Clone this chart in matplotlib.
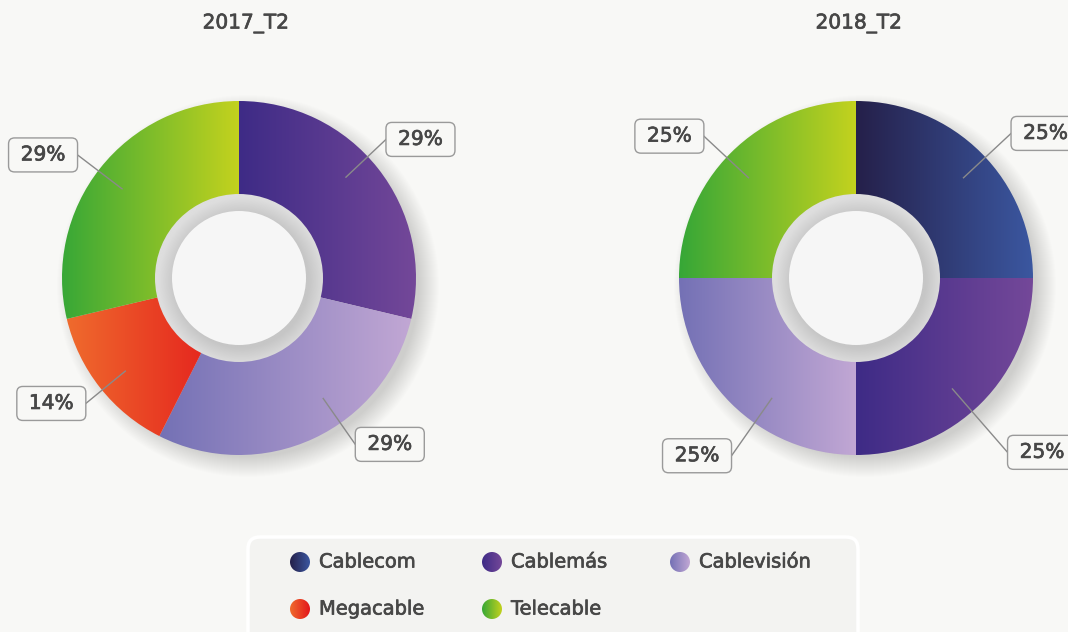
import numpy as np
import matplotlib
matplotlib.use("Agg")
import matplotlib.pyplot as plt
import matplotlib.patheffects as pe
from matplotlib.patches import Wedge, Circle, FancyBboxPatch
from matplotlib.colors import LinearSegmentedColormap

plt.rcParams['font.family'] = ['DejaVu Sans']

# data
companies = ['Cablecom', 'Cablemás', 'Cablevisión', 'Megacable', 'Telecable']
share_2017 = [0, 29, 29, 14, 29]
share_2018 = [25, 25, 25, 0, 25]
periods = ['2017_T2', '2018_T2']

grad_colors = {
    'Cablecom': ('#25204a', '#3b57a0'),
    'Cablemás': ('#3e2b86', '#744899'),
    'Cablevisión': ('#7471b5', '#c1a7d4'),
    'Megacable': ('#ef6b2d', '#e3151b'),
    'Telecable': ('#36a737', '#c3d21e'),
}

BG = '#f8f8f6'
TXT = '#474747'
W, H = 1068, 632
bold_fx = [pe.withStroke(linewidth=0.5, foreground=TXT)]

fig = plt.figure(figsize=(W / 100, H / 100), dpi=100, facecolor=BG)
ax = fig.add_axes([0, 0, 1, 1])
ax.set_facecolor(BG)
ax.axis('off')


def grad_fill(patch, c0, c1, zorder):
    patch.set_facecolor('none')
    patch.set_edgecolor('none')
    ax.add_patch(patch)
    verts = patch.get_patch_transform().transform(patch.get_path().vertices)
    x0, y0 = verts.min(axis=0)
    x1, y1 = verts.max(axis=0)
    cmap = LinearSegmentedColormap.from_list('g', [c0, c1])
    g = np.linspace(0, 1, 256).reshape(1, -1)
    im = ax.imshow(g, cmap=cmap, extent=[x0, x1, y0, y1], aspect='auto',
                   interpolation='bilinear', zorder=zorder)
    im.set_clip_path(patch)


def donut(cx, cy, values, nudges, title, title_x):
    R, r_ring, r_hole = 177, 84, 67
    # soft shadow, falling to the lower right
    for k in range(20, -1, -1):
        ax.add_patch(Circle((cx + 9, cy - 8), R - 6 + k, color='black',
                            alpha=0.0075, lw=0, zorder=1))
    total = float(sum(values))
    start = 90.0
    for name, v in zip(companies, values):
        if v <= 0:
            continue
        sweep = v / total * 360
        t1, t2 = start - sweep, start
        w = Wedge((cx, cy), R, t1, t2, width=R - r_ring + 4)
        c0, c1 = grad_colors[name]
        grad_fill(w, c0, c1, zorder=2)
        # label with leader line
        dth, r_out = nudges[name]
        mid = np.deg2rad((t1 + t2) / 2 + dth)
        xi, yi = cx + 147 * np.cos(mid), cy + 147 * np.sin(mid)
        xo, yo = cx + r_out * np.cos(mid), cy + r_out * np.sin(mid)
        ax.plot([xi, xo], [yi, yo], color='#8a8a8a', lw=1.0, zorder=4)
        bw, bh = 69, 34
        bx = xo if xo > cx else xo - bw
        box = FancyBboxPatch((bx, yo - bh / 2), bw, bh,
                             boxstyle='round,pad=0,rounding_size=6',
                             fc=BG, ec='#9a9a9a', lw=1.0, zorder=5)
        ax.add_patch(box)
        ax.text(bx + bw / 2, yo, f'{v:.0f}%', ha='center', va='center',
                fontsize=14.5, color=TXT, zorder=6, path_effects=bold_fx)
        start = t1
    # inner gray ring with radial shading
    ring = Circle((cx, cy), r_ring, fc='none', ec='none')
    ax.add_patch(ring)
    n = 200
    xs = np.linspace(-r_ring, r_ring, n)
    X, Y = np.meshgrid(xs, xs)
    rr = np.hypot(X - 3, Y + 3)
    shade = np.clip((rr - r_hole) / (r_ring - r_hole), 0, 1)
    cmap = LinearSegmentedColormap.from_list('ring', ['#c6c6c6', '#dedede'])
    im = ax.imshow(shade, cmap=cmap, extent=[cx - r_ring, cx + r_ring, cy - r_ring, cy + r_ring],
                   origin='lower', interpolation='bilinear', zorder=3)
    im.set_clip_path(ring)
    ax.add_patch(Circle((cx, cy), r_hole, fc='#f6f6f6', ec='none', zorder=3.5))
    ax.text(title_x, H - 24, title, ha='center', va='center', fontsize=14.5,
            color=TXT, zorder=6, path_effects=bold_fx)


nudge_2017 = {'Cablemás': (5, 202), 'Cablevisión': (10, 203),
              'Megacable': (1, 198), 'Telecable': (1, 203)}
nudge_2018 = {'Cablecom': (-2, 212), 'Cablemás': (-4, 231),
              'Cablevisión': (10, 217), 'Telecable': (2, 208)}

donut(239, H - 278, share_2017, nudge_2017, periods[0], 246)
donut(856, H - 278, share_2018, nudge_2018, periods[1], 859)

# legend
leg = FancyBboxPatch((248, -30), 610, H - 537 + 30,
                     boxstyle='round,pad=0,rounding_size=12',
                     fc='#f3f3f1', ec='#ffffff', lw=2.5, zorder=1)
ax.add_patch(leg)
col_x = [300, 492, 680]
row_y = [H - 562, H - 609]
for i, name in enumerate(companies):
    x = col_x[i % 3]
    y = row_y[i // 3]
    c0, c1 = grad_colors[name]
    grad_fill(Circle((x, y), 10), c0, c1, zorder=2)
    ax.text(x + 19, y, name, ha='left', va='center', fontsize=14,
            color=TXT, zorder=3, path_effects=bold_fx)

ax.set_xlim(0, W)
ax.set_ylim(0, H)
fig.savefig('out.png', dpi=100, facecolor=BG)
